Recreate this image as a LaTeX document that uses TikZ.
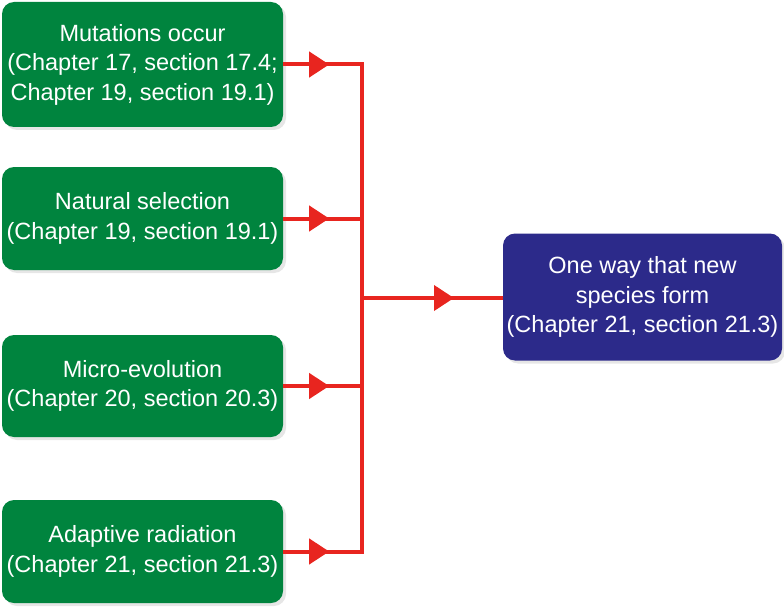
\documentclass[tikz,border=0pt]{standalone}
\usepackage{fontspec}
\setmainfont{Liberation Sans}
\usetikzlibrary{arrows.meta,shadows}
\definecolor{leafgreen}{RGB}{0,132,62}
\definecolor{inkblue}{RGB}{44,42,138}
\definecolor{wirered}{RGB}{232,37,31}

\begin{document}
\begin{tikzpicture}[
  x=1pt,y=-1pt,
  card/.style={rounded corners=12pt,text=white,align=center,
    font=\fontsize{23.5}{29.5}\selectfont,inner sep=0pt,
    drop shadow={shadow xshift=3pt,shadow yshift=-3pt,opacity=.2}},
  greencard/.style={card,fill=leafgreen,minimum width=281pt},
  bluecard/.style={card,fill=inkblue,minimum width=279pt,minimum height=127pt},
  link/.style={draw=wirered,line width=4pt},
  tip/.style={link,-{Triangle[length=20pt,width=25pt]}}
]
  \useasboundingbox (0,0) rectangle (784,607);

  \node[greencard,minimum height=125pt] (mut) at (142.5,64.5)
    {Mutations occur\\(Chapter 17, section 17.4;\\Chapter 19, section 19.1)};
  \node[greencard,minimum height=103pt] (nat) at (142.5,218.5)
    {Natural selection\\(Chapter 19, section 19.1)};
  \node[greencard,minimum height=102pt] (micro) at (142.5,386)
    {Micro-evolution\\(Chapter 20, section 20.3)};
  \node[greencard,minimum height=103pt] (adapt) at (142.5,551.5)
    {Adaptive radiation\\(Chapter 21, section 21.3)};
  \node[bluecard] (spec) at (642.5,297)
    {One way that new\\species form\\(Chapter 21, section 21.3)};

  \coordinate (bus) at (362,298);

  % branches into the bus
  \foreach \src in {mut,nat,micro,adapt}
  {
    \draw[link] (\src.east) -- (\src.east -| bus);
    \draw[tip] (\src.east) -- ++(46,0);
  }
  \draw[link,line cap=rect] (mut.east -| bus) -- (adapt.east -| bus);

  % bus to result
  \draw[link] (bus) -- (bus -| spec.west);
  \draw[tip] (bus) -- ++(92,0);
\end{tikzpicture}
\end{document}
